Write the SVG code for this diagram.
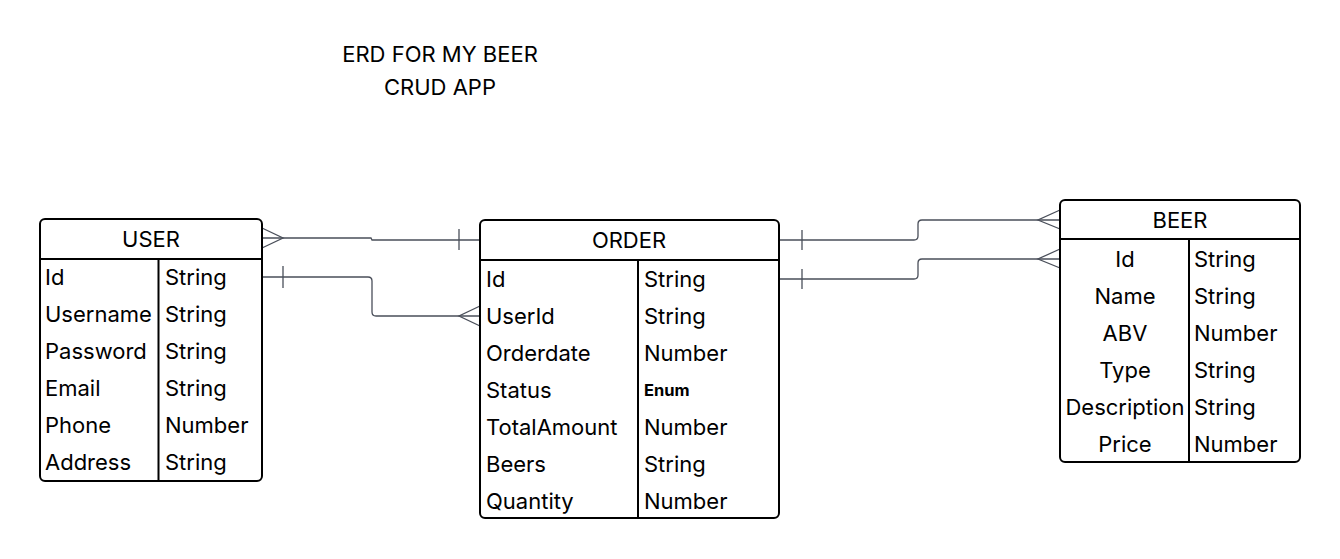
<svg xmlns="http://www.w3.org/2000/svg" width="1340" height="559" viewBox="0 0 1340 559">
<style>
.box{fill:#fff;stroke:#000;stroke-width:2}
.sep{stroke:#000;stroke-width:2;fill:none}
.t{font-family:Inter,"Liberation Sans",sans-serif;font-size:22px;fill:#000;dominant-baseline:central}
.h{text-anchor:middle}
.b{font-size:16.5px;font-weight:bold}
.c{fill:none;stroke:#4a4f5a;stroke-width:1.3}
</style>
<rect width="1340" height="559" fill="#fff"/>
<g id="title">
<text class="t h" x="440" y="54">ERD FOR MY BEER</text>
<text class="t h" x="440" y="87">CRUD APP</text>
</g>
<g id="connectors">
<path class="c" d="M262,238 H371 L372,240 H480"/>
<path class="c" d="M262,228 L283,238 L262,248"/>
<path class="c" d="M459,229 V250"/>
<path class="c" d="M262,277 H368 Q372,277 372,281 V312 Q372,316 376,316 H480"/>
<path class="c" d="M283,266 V288"/>
<path class="c" d="M480,306 L459,316 L480,326"/>
<path class="c" d="M780,240 H914 Q918,240 918,236 V224 Q918,220 922,220 H1060"/>
<path class="c" d="M802,230 V250"/>
<path class="c" d="M1060,210 L1038,220 L1060,229"/>
<path class="c" d="M780,279 H914 Q918,279 918,275 V263 Q918,259 922,259 H1060"/>
<path class="c" d="M802,269 V289"/>
<path class="c" d="M1060,249 L1038,259 L1060,268"/>
</g>
<g id="user">
<rect class="box" x="40" y="219" width="222" height="262" rx="5"/>
<path class="sep" d="M40,259 H262 M158.5,259 V481"/>
<text class="t h" x="151" y="239">USER</text>
<text class="t" x="45" y="277">Id</text><text class="t" x="165" y="277">String</text>
<text class="t" x="45" y="314">Username</text><text class="t" x="165" y="314">String</text>
<text class="t" x="45" y="351">Password</text><text class="t" x="165" y="351">String</text>
<text class="t" x="45" y="388">Email</text><text class="t" x="165" y="388">String</text>
<text class="t" x="45" y="425">Phone</text><text class="t" x="165" y="425">Number</text>
<text class="t" x="45" y="462">Address</text><text class="t" x="165" y="462">String</text>
</g>
<g id="order">
<rect class="box" x="480" y="220" width="299" height="298" rx="5"/>
<path class="sep" d="M480,260 H779 M638,260 V518"/>
<text class="t h" x="629" y="240">ORDER</text>
<text class="t" x="486" y="279">Id</text><text class="t" x="644" y="279">String</text>
<text class="t" x="486" y="316">UserId</text><text class="t" x="644" y="316">String</text>
<text class="t" x="486" y="353">Orderdate</text><text class="t" x="644" y="353">Number</text>
<text class="t" x="486" y="390">Status</text><text class="t b" x="644" y="390">Enum</text>
<text class="t" x="486" y="427">TotalAmount</text><text class="t" x="644" y="427">Number</text>
<text class="t" x="486" y="464">Beers</text><text class="t" x="644" y="464">String</text>
<text class="t" x="486" y="501">Quantity</text><text class="t" x="644" y="501">Number</text>
</g>
<g id="beer">
<rect class="box" x="1060" y="200" width="240" height="262" rx="5"/>
<path class="sep" d="M1060,239 H1300 M1189,239 V462"/>
<text class="t h" x="1180" y="220">BEER</text>
<text class="t h" x="1125" y="259">Id</text><text class="t" x="1194" y="259">String</text>
<text class="t h" x="1125" y="296">Name</text><text class="t" x="1194" y="296">String</text>
<text class="t h" x="1125" y="333">ABV</text><text class="t" x="1194" y="333">Number</text>
<text class="t h" x="1125" y="370">Type</text><text class="t" x="1194" y="370">String</text>
<text class="t h" x="1125" y="407">Description</text><text class="t" x="1194" y="407">String</text>
<text class="t h" x="1125" y="444">Price</text><text class="t" x="1194" y="444">Number</text>
</g>
</svg>
